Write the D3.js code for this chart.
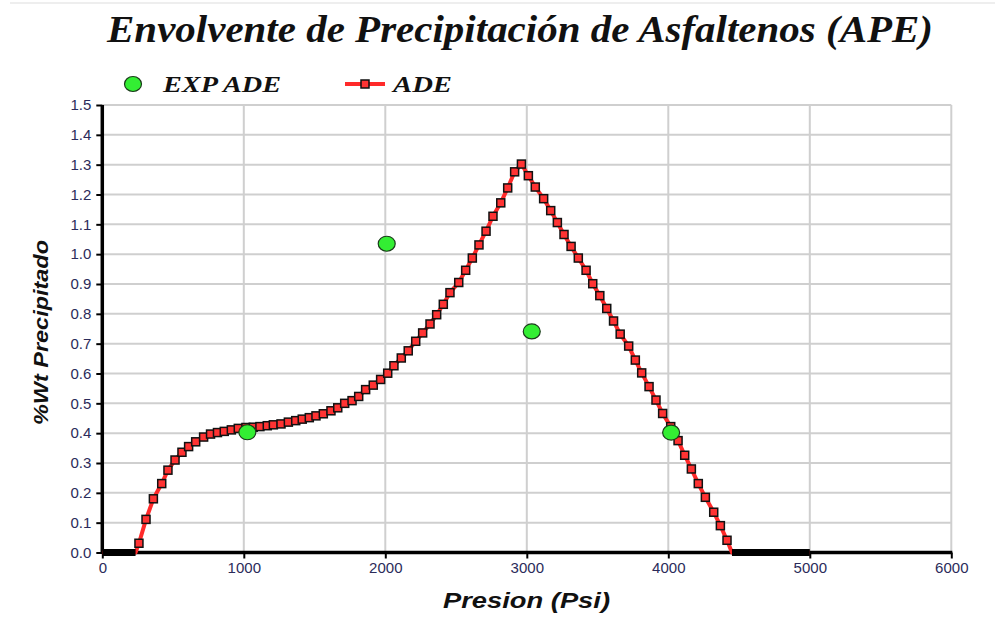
<!DOCTYPE html>
<html>
<head>
<meta charset="utf-8">
<script src="https://cdn.jsdelivr.net/npm/d3@7/dist/d3.min.js"></script>
<style>
  html, body { margin: 0; padding: 0; background: #fff; }
  svg { display: block; }
</style>
</head>
<body>
<svg id="chart" width="995" height="619"></svg>
<script>
// Pressure (psi) and modelled ADE (%wt precipitated)
const psi = [0, 50, 100, 150, 200, 235,
  259, 309, 361, 420, 464, 514, 563, 610, 660, 716, 765, 814, 862, 912, 961,
  1015, 1067, 1114, 1166, 1209, 1263, 1315, 1367, 1413, 1463, 1510, 1562, 1616, 1664, 1713,
  1765, 1812, 1861, 1915, 1967, 2017, 2061, 2113, 2162, 2215, 2264, 2316, 2363, 2410, 2457,
  2519, 2568, 2615, 2662, 2712, 2761, 2816, 2865, 2914, 2962, 3011, 3060, 3119, 3169, 3216,
  3263, 3313, 3364, 3419, 3466, 3516, 3565, 3613, 3660, 3720, 3767, 3812, 3864, 3913, 3960,
  4017, 4069, 4116, 4163, 4212, 4262, 4321, 4368, 4415,
  4450, 4500, 4550, 4600, 4650, 4700, 4750, 4800, 4850, 4900, 4950, 5000];
const ade = [0, 0, 0, 0, 0, 0,
  0.031, 0.111, 0.180, 0.231, 0.276, 0.310, 0.336, 0.355, 0.371, 0.387, 0.397, 0.402, 0.406, 0.411, 0.416,
  0.419, 0.420, 0.422, 0.425, 0.428, 0.431, 0.437, 0.442, 0.447, 0.452, 0.458, 0.465, 0.475, 0.485, 0.500,
  0.509, 0.523, 0.546, 0.561, 0.580, 0.601, 0.626, 0.652, 0.676, 0.708, 0.736, 0.766, 0.797, 0.832, 0.871,
  0.905, 0.946, 0.987, 1.031, 1.077, 1.127, 1.172, 1.222, 1.276, 1.302, 1.263, 1.225, 1.186, 1.146, 1.106,
  1.066, 1.026, 0.987, 0.946, 0.901, 0.861, 0.818, 0.776, 0.732, 0.692, 0.645, 0.602, 0.556, 0.511, 0.466,
  0.422, 0.375, 0.326, 0.280, 0.231, 0.185, 0.135, 0.090, 0.041,
  0, 0, 0, 0, 0, 0, 0, 0, 0, 0, 0, 0];

// Experimental ADE points
const expPsi = [1025, 2010, 3035, 4020];
const expAde = [0.403, 1.035, 0.741, 0.402];

// Axis ticks
const xTicks = [0, 1000, 2000, 3000, 4000, 5000, 6000];
const yTicks = [0, 0.1, 0.2, 0.3, 0.4, 0.5, 0.6, 0.7, 0.8, 0.9, 1.0, 1.1, 1.2, 1.3, 1.4, 1.5];

const svg = d3.select("#chart");
const plotL = 102.3, plotR = 951.3, plotT = 105, plotB = 552.5;
const serif = "'Liberation Serif', 'Times New Roman', serif";
const sans = "'Liberation Sans', Arial, sans-serif";

const x = d3.scaleLinear().domain([0, 6000]).range([plotL, plotR]);
const y = d3.scaleLinear().domain([0, 1.5]).range([plotB, plotT]);

// faint rule across the top of the page
svg.append("line").attr("x1", 10).attr("x2", 995).attr("y1", 3).attr("y2", 3)
  .attr("stroke", "#eeeeee").attr("stroke-width", 2);

// title
svg.append("text")
  .attr("x", 107).attr("y", 42)
  .attr("font-family", serif)
  .attr("font-weight", "bold").attr("font-style", "italic")
  .attr("font-size", 38)
  .attr("textLength", 826).attr("lengthAdjust", "spacingAndGlyphs")
  .attr("fill", "#111")
  .text("Envolvente de Precipitación de Asfaltenos (APE)");

// grid
const grid = svg.append("g").attr("stroke", "#cfcfcf").attr("stroke-width", 2);
grid.selectAll("line.v").data(xTicks.slice(1)).join("line")
  .attr("class", "v")
  .attr("x1", d => x(d)).attr("x2", d => x(d))
  .attr("y1", plotT).attr("y2", plotB);
grid.selectAll("line.h").data(yTicks.slice(1)).join("line")
  .attr("class", "h")
  .attr("x1", plotL).attr("x2", plotR)
  .attr("y1", d => y(d)).attr("y2", d => y(d));

// axes
const xAxis = d3.axisBottom(x).tickValues(xTicks).tickSize(6).tickPadding(4).tickFormat(d3.format("d"));
const yAxis = d3.axisLeft(y).tickValues(yTicks).tickSize(6).tickPadding(5).tickFormat(d3.format(".1f"));

const gx = svg.append("g").attr("transform", `translate(0,${plotB})`).call(xAxis);
const gy = svg.append("g").attr("transform", `translate(${plotL},0)`).call(yAxis);
[gx, gy].forEach(g => {
  g.select(".domain").attr("stroke", "#000").attr("stroke-width", 3.5);
  g.selectAll(".tick line").attr("stroke", "#000").attr("stroke-width", 2);
  g.selectAll(".tick text")
    .attr("font-family", sans)
    .attr("font-size", 15)
    .attr("fill", "#2b2b5a");
});
gx.select(".domain").attr("d", `M${plotL},0H${plotR + 1}`);
gy.select(".domain").attr("d", `M0,${plotB + 1}V${plotT}`);

// axis titles
svg.append("text")
  .attr("x", 443).attr("y", 608)
  .attr("font-family", sans)
  .attr("font-weight", "bold").attr("font-style", "italic")
  .attr("font-size", 22)
  .attr("textLength", 167).attr("lengthAdjust", "spacingAndGlyphs")
  .attr("fill", "#111")
  .text("Presion (Psi)");

svg.append("text")
  .attr("transform", "translate(48,425) rotate(-90)")
  .attr("font-family", sans)
  .attr("font-weight", "bold").attr("font-style", "italic")
  .attr("font-size", 21)
  .attr("textLength", 185).attr("lengthAdjust", "spacingAndGlyphs")
  .attr("fill", "#111")
  .text("%Wt Precipitado");

// ADE curve
const pts = psi.map((p, i) => ({ p, v: ade[i] }));
const line = d3.line().x(d => x(d.p)).y(d => y(d.v));
svg.append("path").datum(pts)
  .attr("d", line)
  .attr("fill", "none")
  .attr("stroke", "#ff2a2a")
  .attr("stroke-width", 4)
  .attr("stroke-linejoin", "round");

// zero-valued stretches sit on the axis as a solid black band
const zeroLine = d3.line().defined(d => d.v === 0).x(d => x(d.p)).y(d => y(d.v));
svg.append("path").datum(pts)
  .attr("d", zeroLine)
  .attr("fill", "none")
  .attr("stroke", "#000")
  .attr("stroke-width", 7);

const ms = 8;
svg.append("g").selectAll("rect").data(pts.filter(d => d.v > 0)).join("rect")
  .attr("x", d => x(d.p) - ms / 2).attr("y", d => y(d.v) - ms / 2)
  .attr("width", ms).attr("height", ms)
  .attr("fill", "#ff3333")
  .attr("stroke", "#111").attr("stroke-width", 1.5);

// experimental points
const exp = expPsi.map((p, i) => ({ p, v: expAde[i] }));
svg.append("g").selectAll("ellipse").data(exp).join("ellipse")
  .attr("cx", d => x(d.p)).attr("cy", d => y(d.v))
  .attr("rx", 8.5).attr("ry", 7.5)
  .attr("fill", "#33ee33")
  .attr("stroke", "#1a3a1a").attr("stroke-width", 1.2);

// legend
const lg = svg.append("g");
lg.append("ellipse").attr("cx", 133).attr("cy", 84).attr("rx", 8.5).attr("ry", 7.5)
  .attr("fill", "#33ee33").attr("stroke", "#1a3a1a").attr("stroke-width", 1.2);
lg.append("text").attr("x", 163).attr("y", 92)
  .attr("font-family", serif)
  .attr("font-weight", "bold").attr("font-style", "italic")
  .attr("font-size", 24)
  .attr("textLength", 118).attr("lengthAdjust", "spacingAndGlyphs")
  .attr("fill", "#111")
  .text("EXP ADE");
lg.append("line").attr("x1", 345).attr("x2", 385).attr("y1", 84).attr("y2", 84)
  .attr("stroke", "#ff2a2a").attr("stroke-width", 4);
lg.append("rect").attr("x", 361).attr("y", 80).attr("width", 8).attr("height", 8)
  .attr("fill", "#ff3333").attr("stroke", "#111").attr("stroke-width", 1.5);
lg.append("text").attr("x", 393).attr("y", 92)
  .attr("font-family", serif)
  .attr("font-weight", "bold").attr("font-style", "italic")
  .attr("font-size", 24)
  .attr("textLength", 59).attr("lengthAdjust", "spacingAndGlyphs")
  .attr("fill", "#111")
  .text("ADE");
</script>
</body>
</html>
